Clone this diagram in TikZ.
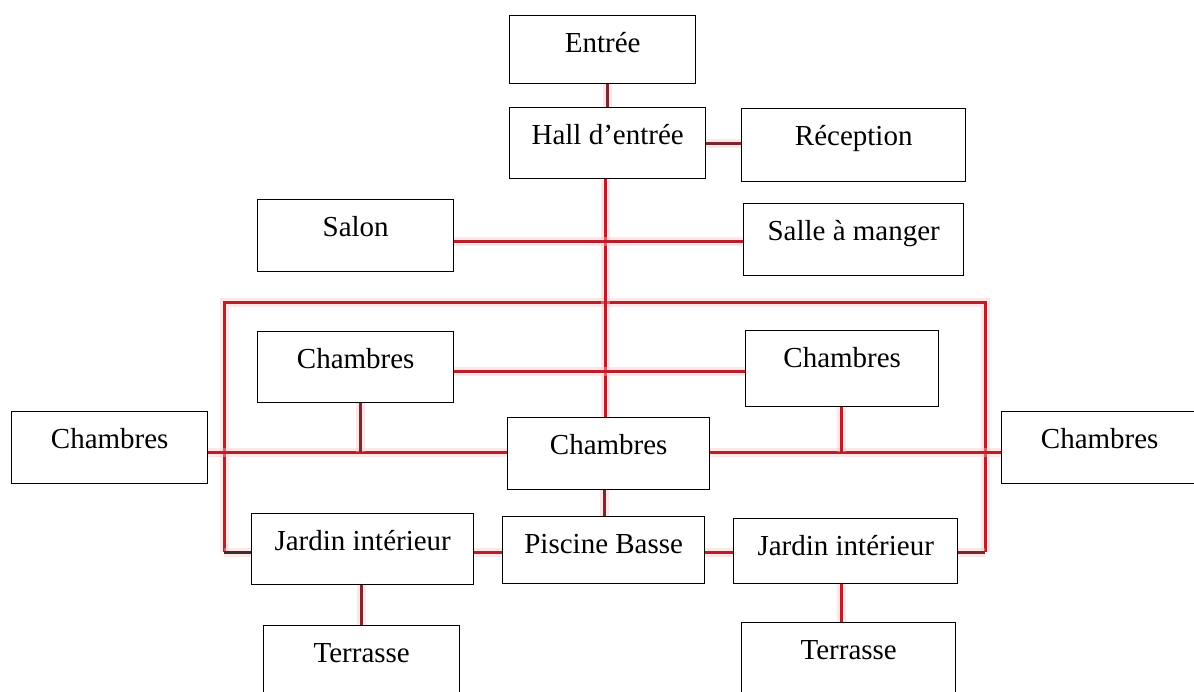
\documentclass[tikz,border=0pt]{standalone}
\usepackage{fontspec}
\setmainfont{Liberation Serif}
\begin{document}
\definecolor{linkred}{RGB}{185,30,42}
\definecolor{linkdark}{RGB}{125,40,48}
\definecolor{halo}{RGB}{255,195,195}
\begin{tikzpicture}[x=1pt,y=-1pt,
  room/.style 2 args={draw=black, line width=1.4pt, fill=white, inner sep=0pt,
    minimum width=#1pt, text height=37pt, text depth=#2pt, anchor=north west,
    font=\fontsize{29}{34}\selectfont},
  link/.style={preaction={draw=halo, line width=9pt, opacity=0.4},
    draw=linkred, line width=3pt},
  darklink/.style={link, draw=linkdark}]
\useasboundingbox (0,0) rectangle (1194,691);
\fill[white] (0,0) rectangle (1194,691);

% line levels and junction columns
\coordinate (trunk) at (605,0);
\coordinate (ySal) at (0,241);
\coordinate (yUp) at (0,371);
\coordinate (yMid) at (0,452);
\coordinate (yLow) at (0,552);
\coordinate (loopL) at (224,552);
\coordinate (loopTR) at (985,302);
\coordinate (loopR) at (985,552);
\coordinate (colL) at (360,0);
\coordinate (colR) at (841,0);

% outer corridor loop, drawn under the rooms
\draw[link] (loopL) |- (loopTR) -- (loopR);
\draw[darklink, draw=black!80] (loopL -| 251,0) -- (loopL);
\draw[darklink] (loopR) -- (957,552);

% rooms
\node[room={186}{31}] (entree) at (509,15) {Entrée};
\node[room={196}{34}] (hall) at (509,107) {Hall d’entrée};
\node[room={224}{36}] (recep) at (741,108) {Réception};
\node[room={196}{35}] (salon) at (257,199) {Salon};
\node[room={220}{35}] (salle) at (743,203) {Salle à manger};
\node[room={196}{34}] (chUL) at (257,331) {Chambres};
\node[room={193}{39}] (chUR) at (745,330) {Chambres};
\node[room={196}{35}] (chFL) at (11,411) {Chambres};
\node[room={202}{35}] (chC) at (507,417) {Chambres};
\node[room={196}{35}] (chFR) at (1001,411) {Chambres};
\node[room={222}{34}] (jardL) at (251,513) {Jardin intérieur};
\node[room={202}{30}] (pisc) at (502,516) {Piscine Basse};
\node[room={224}{28}] (jardR) at (733,518) {Jardin intérieur};
\node[room={196}{35}] (terL) at (263,625) {Terrasse};
\node[room={214}{35}] (terR) at (741,622) {Terrasse};

% connectors between rooms
\draw[darklink] (entree.south -| 607,0) -- (hall.north -| 607,0);
\draw[darklink] (hall.east |- 0,143) -- (recep.west |- 0,143);
\draw[link] (hall.south -| trunk) -- (chC.north -| trunk);
\draw[link] (salon.east |- ySal) -- (salle.west |- ySal);
\draw[link] (chUL.east |- yUp) -- (chUR.west |- yUp);
\draw[link] (chFL.east |- yMid) -- (chC.west |- yMid);
\draw[link] (chC.east |- yMid) -- (chFR.west |- yMid);
\draw[darklink] (chUL.south -| colL) -- (colL |- yMid);
\draw[link] (chUR.south -| colR) -- (colR |- yMid);
\draw[darklink] (chC.south -| 604,0) -- (pisc.north -| 604,0);
\draw[link] (jardL.east |- yLow) -- (pisc.west |- yLow);
\draw[link] (pisc.east |- yLow) -- (jardR.west |- yLow);
\draw[darklink] (jardL.south -| 361,0) -- (terL.north -| 361,0);
\draw[link] (jardR.south -| colR) -- (terR.north -| colR);
\end{tikzpicture}
\end{document}
